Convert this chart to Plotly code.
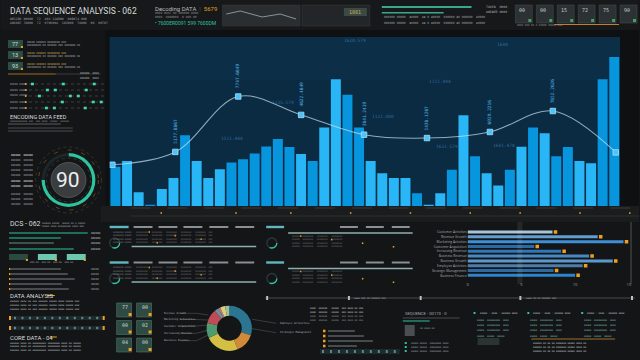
import plotly.graph_objects as go

W, H = 640, 360
def X(px): return px / W
def Y(py): return 1 - py / H

# ---------------- data ----------------
bar_index = list(range(1, 45))
bar_values = [464, 534, 162, 16, 202, 332, 836, 534, 332, 436, 514, 554, 622, 704, 792, 698,
              614, 534, 930, 1500, 1318, 930, 534, 388, 332, 332, 150, 16, 150, 428, 1074,
              590, 388, 242, 428, 700, 930, 860, 590, 698, 534, 506, 1500, 1762]
bar_tone = "DLLDLLDLLLDDDDDDLDLLDDLLLLDLLDLDLLDLDLDDLLDD"

trend_index = list(range(9))
trend_values = [488, 640, 1296, 1078, 844, 804, 876, 1124, 634]
trend_labels = ["", "5177.8867", "7747.6649", "4622.4849", "3841.2419",
                "5438.1267", "6929.2216", "7852.2626", ""]

hbar_labels = ["Customer Activities", "Revenue Growth", "Marketing Activities",
               "Customer Acquisition", "Increasing Revenue", "Business Revenue",
               "Business Growth", "Employee Activities", "Strategic Management",
               "Business Finance"]
hbar_values = [7.9, 12.1, 14.5, 6.2, 8.7, 11.3, 13.5, 10.7, 8.0, 10.0]
hbar_ticks = [0, 5, 10, 15]

donut_labels = ["Employee Activities", "Strategic Management", "Business Revenue",
                "Increasing Revenue", "Customer Acquisition", "Marketing Activities",
                "Revenue Growth", "Business Growth", "Customer Activities"]
donut_values = [30, 14, 24, 11, 10, 3, 1.5, 3.5, 3]

gauge_value = 90
gauge_fill = 75

# ---------------- styles ----------------
LIGHT, DARK = "#29b6f6", "#0795de"
bar_colors = [LIGHT if t == "L" else DARK for t in bar_tone]
hbar_colors = ["#a9c4d8", "#5f9fd3", "#3f8fd6", "#2a6aa0", "#2c78bb",
               "#4a88c0", "#5a98cf", "#4e7ea8", "#2d6aa3", "#2f82cc"]
donut_colors = ["#2b7590", "#d08a3a", "#d4bf45", "#4f9a70", "#c04a55",
                "#6f8fa0", "#c07a80", "#dcd07a", "#9fc0a0"]
TEAL = "#2ec4a0"
GRAY = "#8a8f92"
ORANGE = "#f0a020"

fig = go.Figure()

# main bars
fig.add_trace(go.Bar(x=bar_index, y=bar_values, marker=dict(color=bar_colors, line=dict(width=0)),
                     xaxis="x", yaxis="y", hoverinfo="skip"))
# trend line
fig.add_trace(go.Scatter(x=trend_index, y=trend_values, mode="lines+markers", xaxis="x2", yaxis="y",
                         line=dict(shape="spline", smoothing=1.0, color="rgba(200,225,240,0.7)", width=1.1),
                         marker=dict(symbol="square", size=5.5, color="#4fc3f7",
                                     line=dict(color="#9fe0ff", width=0.8)), hoverinfo="skip"))
# horizontal bars
fig.add_trace(go.Bar(y=hbar_labels, x=hbar_values, orientation="h", xaxis="x3", yaxis="y3",
                     marker=dict(color=hbar_colors, line=dict(width=0)), hoverinfo="skip"))
fig.add_trace(go.Scatter(y=hbar_labels, x=[v + 0.28 for v in hbar_values], mode="markers",
                         xaxis="x3", yaxis="y3",
                         marker=dict(symbol="square", size=3.5, color=ORANGE), hoverinfo="skip"))
# donut
fig.add_trace(go.Pie(values=donut_values, labels=donut_labels, hole=0.55, sort=False,
                     direction="clockwise", rotation=0, textinfo="none",
                     marker=dict(colors=donut_colors, line=dict(width=0)),
                     domain=dict(x=[X(206.3), X(251.7)], y=[Y(351), Y(305.6)]), hoverinfo="skip"))
# gauge ring
fig.add_trace(go.Pie(values=[gauge_fill, 100 - gauge_fill], hole=0.88, sort=False,
                     direction="counterclockwise", rotation=0, textinfo="none",
                     marker=dict(colors=[TEAL, "#1d2628"], line=dict(width=0)),
                     domain=dict(x=[X(40.7), X(94.7)], y=[Y(207), Y(153)]), hoverinfo="skip"))

shapes = []
ann = []

def rect(x0, y0, x1, y1, fill, line=None, lw=0, layer="below", op=1):
    shapes.append(dict(type="rect", xref="paper", yref="paper", x0=X(x0), x1=X(x1), y0=Y(y1), y1=Y(y0),
                       fillcolor=fill, line=dict(color=line or "rgba(0,0,0,0)", width=lw), layer=layer, opacity=op))

def line(x0, y0, x1, y1, color, w=1, dash=None, layer="above"):
    d = dict(type="line", xref="paper", yref="paper", x0=X(x0), x1=X(x1), y0=Y(y0), y1=Y(y1),
             line=dict(color=color, width=w), layer=layer)
    if dash:
        d["line"]["dash"] = dash
    shapes.append(d)

def circle(cx, cy, r, fill="rgba(0,0,0,0)", lc="rgba(0,0,0,0)", lw=1, dash=None, layer="above"):
    d = dict(type="circle", xref="paper", yref="paper", x0=X(cx - r), x1=X(cx + r), y0=Y(cy + r), y1=Y(cy - r),
             fillcolor=fill, line=dict(color=lc, width=lw), layer=layer)
    if dash:
        d["line"]["dash"] = dash
    shapes.append(d)

def text(x, y, s, size=4, color=GRAY, anchor="left", family="DejaVu Sans Mono"):
    ann.append(dict(xref="paper", yref="paper", x=X(x), y=Y(y), text=s, showarrow=False,
                    xanchor=anchor, yanchor="middle", font=dict(size=size, color=color, family=family)))

# ---------------- backgrounds ----------------
rect(0, 0, 640, 30, "#161819")
rect(105, 30, 640, 212, "#0e1011")
rect(109, 37, 621, 206, "#0b2b42")
rect(109, 37, 621, 80, "#0d3049", op=0.6)
rect(100, 206, 640, 222, "#1a1c1d")
for gx in range(130, 640, 37):
    line(gx, 208, gx + 20, 208, "rgba(150,150,150,0.25)", 1)
for gx in [160, 235, 290, 350, 410, 470, 520, 580, 630]:
    rect(gx, 212, gx + 1.5, 214, ORANGE, op=0.8)
line(130, 216, 640, 216, "rgba(160,160,160,0.15)", 1)

# faint labels inside main panel
for (fx, fy, s) in [(355, 40, "1620.579"), (283, 102, "1135.579"), (383, 117, "1121.000"),
                    (447, 146, "1631.579"), (505, 145, "1601.478"), (232, 138, "1511.444"),
                    (440, 82, "1111.444"), (503, 44, "1600")]:
    text(fx, fy, s, 4.5, "rgba(79,170,225,0.5)", "center")

# rotated labels on trend markers
for i, s in enumerate(trend_labels):
    if s:
        ann.append(dict(xref="x2", yref="y", x=trend_index[i], y=trend_values[i], text=s, showarrow=False,
                        textangle=-90, xanchor="center", yanchor="bottom", yshift=6,
                        font=dict(size=4.5, color="#4fb3e8", family="DejaVu Sans Mono")))

# ---------------- top bar ----------------
text(7, 11, "DATA SEQUENCE ANALYSIS - 062", 8.5, "#d8dcdc", family="Roboto")
text(7, 19, "NB1286 00000  72  X04 12AR00  008074 000", 3.2, "#a0a4a6")
text(7, 23, "A86987 70000  72  0706004  102000  T4006  00  00T0T", 3.2, "#a0a4a6")
text(152, 8, "Decoding DATA  <span style='color:#555'>|</span>  <span style='color:#e0a030'>5679</span>", 6, "#b8bcbe", family="Roboto")
text(152, 13, "0000 00AT 00 000000 0000", 3, "#8a8e90")
text(152, 17, "0000  0000000  0 000 00", 3, "#8a8e90")
text(152, 23, "• 7600ER0091 599 7600DM", 5, TEAL, family="Roboto")
rect(222, 5, 300, 26, "#2a2e30", "#3a3f42", 0.5)
line(226, 14, 240, 11, "#cfd6d8", 0.6)
line(240, 11, 262, 17, "#cfd6d8", 0.6)
line(262, 17, 280, 14, "#cfd6d8", 0.6)
line(280, 14, 296, 19, "#cfd6d8", 0.6)
rect(302, 5, 370, 26, "#222628", "#3a3f42", 0.5)
rect(344, 8, 367, 16, "#3c4a44")
text(355, 12, "1881", 5, "#d0b060", "center")
rect(382, 6, 472, 8, "#3aa88a")
rect(382, 12, 444, 13.5, "#3aa88a")
for k, yy in enumerate([17, 23]):
    text(382, yy, "000000 00000  ▮0000  ▮▮ 0 ▮0000  000000 ▮0 000000  ▮0000", 3, "#9aa0a3")
text(485, 7, "TOKEN  0000", 3.2, "#b0b4b6")
text(485, 12, "ANSWER 0000", 3.2, "#b0b4b6")
for k, n in enumerate(["00", "00", "15", "72", "75", "90"]):
    x0 = 516 + k * 21
    rect(x0, 5, x0 + 17, 23, "#2c3134", "#4a5053", 0.5)
    text(x0 + 12, 10, n, 5, "#c8cccc", "right")
    rect(x0 + 13, 19, x0 + 16, 22, "#45a060")
line(555, 24.5, 620, 24.5, "#c08030", 1)
text(516, 25.5, "0000 000 00 0 00000 00000 000", 2.6, "#8a8e90")

# ---------------- left column ----------------
for k, n in enumerate(["77", "13", "93"]):
    yy = 44 + k * 11
    rect(7, yy - 4, 22, yy + 4, "#2d4d44")
    text(14.5, yy, n, 5.5, "#d0e0d8", "center", "Roboto")
    rect(20, yy + 2, 22, yy + 4, ORANGE)
    text(24, yy - 2, "00000 000000 00000000 000", 2.6, "#d0a040" if k else "#a0a4a6")
    text(24, yy + 1.5, "000000000 00 000000 000 0000000 00", 2.6, "#a0a4a6")
line(7, 74, 55, 74, "#a06a20", 1)
line(55, 74, 100, 74, "#3a3d3f", 1)
text(100, 74, "000000  0000", 2.6, "#b0b4b6", "right")
text(100, 78, "000000  0000", 2.6, "#b0b4b6", "right")
for k in range(5):
    yy = 84 + k * 6
    text(7, yy, "00000 00000", 2.6, "#9a9ea0")
    rect(24, yy - 1, 25.5, yy + 1, ORANGE)
    line(28, yy, 104, yy, "rgba(140,150,150,0.35)", 1, "dot")
    for j in range(3):
        px = 30 + ((k * 23 + j * 31) % 70)
        rect(px, yy - 1.3, px + 3, yy + 1.3, "#3fe0b0")
text(7, 117, "ENCODING DATA FEED", 5.5, "#d8dcdc", family="Roboto")
text(7, 121, "000000000000 000  000 0000  00000  000000", 2.4, "#8a8e90")
line(7, 124, 60, 124, "#5a5e60", 1)
line(7, 128, 72, 128, "#4a4e50", 1.2)
line(7, 131, 72, 131, "#4a4e50", 1.2)
for k in range(10):
    yy = 155 + k * 5.2 + (3 if k > 6 else 0)
    text(8, yy, "000000  000000", 2.6, "#e0e4e4" if k in (0, 5, 6) else "#a0a4a6")

# gauge decorations
circle(67.7, 180, 33, lc="rgba(130,130,130,0.35)", lw=0.8, dash="dot")
circle(67.7, 180, 30, lc="rgba(200,130,50,0.45)", lw=1, dash="4px,10px")
circle(67.7, 180, 22, lc="rgba(140,140,140,0.45)", lw=0.6, dash="dot")
circle(67.7, 180, 17.5, fill="#3a3d3f", lc="#5a5e60", lw=0.8)
text(67.7, 180, str(gauge_value), 21, "#eef0f0", "center", "Roboto")

# ---------------- bottom left ----------------
text(7, 224, "DCS - 062", 7, "#d8dcdc", family="Roboto")
text(39, 223, "000000 00000  00000 00 0 00000", 2.4, "#a0a4a6")
text(39, 226, "00000 0000 000000000 0000 000", 2.4, "#a0a4a6")
for k, (ln, yy) in enumerate([(79, 233), (52, 238), (45, 243), (65, 249)]):
    line(8, yy, 8 + ln, yy, TEAL if k != 2 else "#6a9080", 1.2)
    text(88, yy, "000000", 2.6, "#c0c4c6")
rect(8, 254, 27, 260, "#2b4a40")
rect(37, 254, 56, 260, "#6ec8b0")
rect(66, 254, 85, 260, "#6ec8b0")
for xx in [26, 55, 84]:
    rect(xx - 1, 259, xx + 1, 261, ORANGE)
text(27, 262.5, "000 00  000 00  000 00  000 00", 2.4, "#a0a4a6")
for k in range(5):
    yy = 269 + k * 5
    rect(8, yy - 1, 9.5, yy + 1, ORANGE)
    line(10, yy, 60 + (k * 7) % 20, yy, "#5a5e60", 1.5)
    text(88, yy, "00000", 2.6, "#a0a4a6")
text(7, 295.5, "DATA ANALYSIS", 6, "#d8dcdc", family="Roboto")
line(46, 295.5, 54, 295.5, ORANGE, 1)
for k in range(3):
    text(7, 301.5 + k * 3.8, "000000 0000 00 000 000000 00000 0000 00000 000", 2.5, "#c0c4c6")
for yy in [318, 328]:
    rect(8, yy - 2, 104, yy + 2, "#1f2a2c")
    for j in range(12):
        rect(13 + j * 7.5, yy - 1.2, 15 + j * 7.5, yy + 1.2, "#5a8a90")
    rect(8, yy - 2, 10, yy + 2, ORANGE)
    rect(102, yy - 2, 104, yy + 2, ORANGE)
text(7, 337, "CORE DATA - 04", 6, "#d8dcdc", family="Roboto")
line(49, 337, 56, 337, ORANGE, 1)
for k in range(3):
    text(7, 343 + k * 3.8, "000000 0000 00 000000000 00000000 0000 00 00000", 2.5, "#c0c4c6")

# ---------------- middle tables ----------------
for by in [227, 262.5]:
    rect(109, by - 1.2, 128, by + 1.2, "#5fb8c0")
    for hx in [133, 158, 183, 209, 235]:
        rect(hx, by - 1, hx + 19, by + 1, "#8a9092")
    for r in range(4):
        yy = by + 5 + r * 3.6
        text(110, yy, "00000000 00000", 2.2, "#7a7e80")
        text(133, yy, "000000000   00000000   00000000   00000000   00000000  000", 2.2, "#6a6e70")
        rect(148 + (r * 26) % 70, yy - 0.8, 149.5 + (r * 26) % 70, yy + 0.8, ORANGE)
    line(131, by + 19.5, 256, by + 19.5, "#8fb0b0", 1.4)
    circle(114, by + 16, 5, lc="#2a3a3c", lw=1.3)
    circle(114, by + 16, 5, lc=TEAL, lw=1.3, dash="10px,30px")
    # right group
    rect(266, by - 1.2, 284, by + 1.2, "#5fb8c0")
    for hx in [340, 366, 392]:
        rect(hx, by - 1, hx + 18, by + 1, "#8a9092")
    line(288, by + 6, 413, by + 6, "#8fb0b0", 1.4)
    for r in range(4):
        yy = by + 9 + r * 3.6
        text(290, yy, "000000  00000000   00000000   00000000", 2.2, "#6a6e70")
        rect(300 + (r * 31) % 100, yy - 0.8, 301.5 + (r * 31) % 100, yy + 0.8, ORANGE)
    circle(271.7, by + 16, 5, lc="#2a3a3c", lw=1.3)
    circle(271.7, by + 16, 5, lc=TEAL, lw=1.3, dash="10px,30px")

# slider line
line(265, 298, 636, 298, "rgba(150,160,160,0.4)", 1)
for sx in [266, 348, 420, 520, 632]:
    rect(sx, 296, sx + 2, 300, "#c0c4c6")
text(352, 298, "▮▮▮▮ 000 00 000000 000", 2.4, "#9aa0a3")
text(525, 298, "▮▮▮▮ 00 00 000000 000", 2.4, "#9aa0a3")

# numbered squares
for k, n in enumerate(["77", "00", "00", "02", "04", "00"]):
    col, row = k % 2, k // 2
    x0, y0 = 116 + col * 20, 303 + row * 17.5
    rect(x0, y0, x0 + 15, y0 + 14, "#2e4a42", "#4a7a68", 0.6)
    text(x0 + 13, y0 + 4, n, 5, "#c8d8d0", "right")
    rect(x0 + 12, y0 + 10, x0 + 15, y0 + 13, ORANGE)

# donut leader lines + labels
for k, (s, yy) in enumerate(zip(["Revenue Growth", "Marketing Activities", "Customer Acquisition",
                                 "Increasing Revenue", "Business Revenue"],
                                [313.3, 319.5, 326, 333.3, 340.7])):
    text(162, yy, s, 2.6, "#b0b4b6")
    line(180, yy, 196, yy, "rgba(150,150,150,0.5)", 0.6)
    line(196, yy, 208, 315 + k * 5, "rgba(150,150,150,0.5)", 0.6)
for s, yy in [("Employee Activities", 323.3), ("Strategic Management", 332.7)]:
    text(278, yy, s, 2.6, "#b0b4b6")
    line(252, yy - 4, 276, yy, "rgba(150,150,150,0.5)", 0.6)

# right-middle text blocks
for k in range(4):
    text(308, 308 + k * 4, "0000  000000   00000  000 0000 00 000", 2.4, "#c0c4c6" if k < 2 else "#8a8e90")
text(403, 313, "SEQUENCE - 00173 - 0", 4.2, "#a0b0b0", family="Roboto")
line(403, 318, 460, 318, "#4a4e50", 1)
line(403, 321, 430, 321, TEAL, 1)
rect(405, 325, 415, 336, "#4a4e50")
text(418, 328, "00 0000 00", 2.4, "#9aa0a3")
for k in range(3):
    rect(405, 342 + k * 4, 407, 344 + k * 4, TEAL)
    text(409, 343 + k * 4, "00000 00000  00000000 0000", 2.4, "#9aa0a3")
for k in range(4):
    yy = 331 + k * 5
    rect(323, yy - 1.3, 325.5, yy + 1.3, ORANGE)
    line(328, yy, 355 + (k * 9) % 25, yy, "#5a5e60", 1.5)
rect(320, 349, 400, 354, "#1f2a2c")
for j in range(10):
    rect(322 + j * 8, 350, 324 + j * 8, 353, "#5a8a90")
for k, x0 in enumerate([475, 529, 583]):
    rect(x0 - 1, 312, x0 + 1, 314, TEAL)
    text(x0 + 3, 313, "00000 : 0000 : 000000 0000", 2.4, "#c0c4c6")
    for r in range(3):
        text(x0, 320 + r * 5, "00000  000000000  0000", 2.4, "#7fb8b0")
    text(x0, 336, "00000  00000  00000", 2.4, "#7fb8b0")
line(532, 339, 616, 339, "#a07030", 1)
for r in range(3):
    text(532, 343 + r * 4, "000000 00 00 00 0000000 00000 0000 00", 2.4, "#c0c4c6")
rect(478, 338, 500, 345, "#2a3430")

# horizontal bar chart frame lines
line(632, 222, 632, 284, "rgba(200,200,200,0.35)", 1)
line(520.5, 222, 520.5, 284, "rgba(255,255,255,0.08)", 5)

fig.update_layout(
    width=W, height=H, margin=dict(l=0, r=0, t=0, b=0),
    paper_bgcolor="#131516", plot_bgcolor="rgba(0,0,0,0)",
    showlegend=False, bargap=0.14, hovermode=False,
    xaxis=dict(domain=[X(109), X(621)], range=[0.5, 44.5], visible=False, fixedrange=True),
    yaxis=dict(domain=[Y(206), Y(37)], range=[0, 2000], visible=False, fixedrange=True),
    xaxis2=dict(overlaying="x", range=[-0.043, 8.068], visible=False, anchor="y"),
    xaxis3=dict(domain=[X(468), X(632)], range=[0, 15.2], anchor="y3", tickvals=hbar_ticks,
                ticktext=[str(t) for t in hbar_ticks], tickfont=dict(size=4, color="#a0a4a6"),
                showgrid=False, zeroline=False, showline=False, ticks=""),
    yaxis3=dict(domain=[Y(281.1), Y(226.3)], anchor="x3", autorange="reversed",
                tickfont=dict(size=3.3, color="#a8acae"), showgrid=False, zeroline=False, ticks=""),
    shapes=shapes, annotations=ann,
)
fig.data[2].update(width=0.62)
fig.write_html("out.html", config={"displayModeBar": False, "staticPlot": True},
               post_script="document.body.style.margin='0';document.body.style.overflow='hidden';")
